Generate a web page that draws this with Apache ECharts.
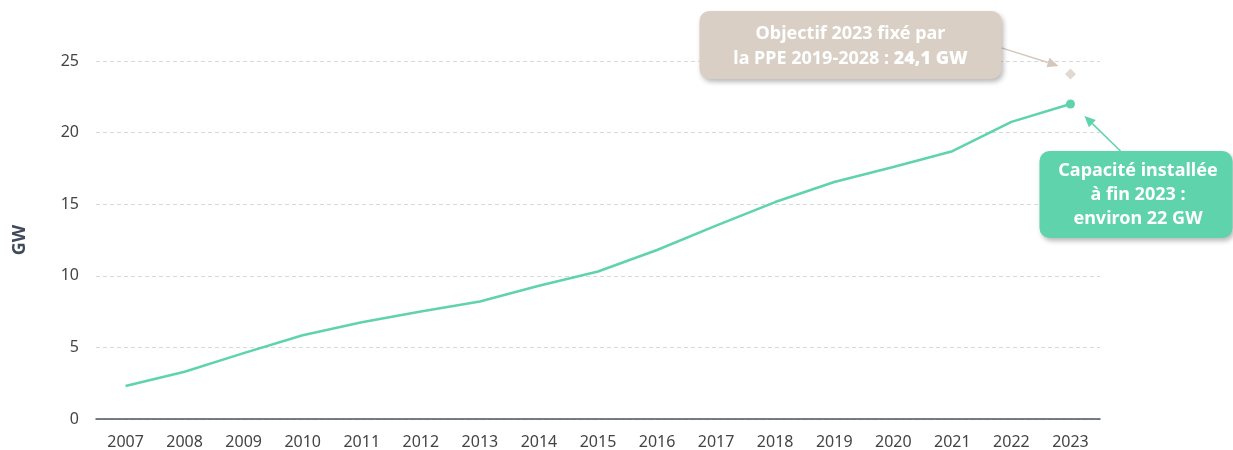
<!DOCTYPE html>
<html><head><meta charset="utf-8">
<script src="https://cdn.jsdelivr.net/npm/echarts@6/dist/echarts.min.js"></script>
<style>html,body{margin:0;padding:0;background:#fff}#c{width:1233px;height:450px}</style>
</head><body><div id="c"></div>
<script>
const years = ['2007','2008','2009','2010','2011','2012','2013','2014','2015','2016','2017','2018','2019','2020','2021','2022','2023'];
const capacity = [2.3, 3.3, 4.6, 5.85, 6.75, 7.5, 8.2, 9.3, 10.3, 11.8, 13.5, 15.15, 16.55, 17.6, 18.7, 20.75, 22.0];
const targetYear = '2023';
const targetValue = 24.1;
const yTicks = [0, 5, 10, 15, 20, 25];

const green = '#5fd3ab';
const beige = '#d9cfc5';
const font = '"Noto Sans", Lato, sans-serif';

const chart = echarts.init(document.getElementById('c'), null, {renderer: 'canvas'});
chart.setOption({
  animation: false,
  grid: {left: 96, right: 133, top: 61, bottom: 31},
  xAxis: {
    type: 'category', data: years, boundaryGap: true,
    axisLine: {lineStyle: {color: '#4b5261', width: 1.5}},
    axisTick: {show: false},
    axisLabel: {color: '#444', fontSize: 16, fontFamily: font, margin: 15}
  },
  yAxis: {
    type: 'value', min: yTicks[0], max: yTicks[yTicks.length - 1], interval: 5,
    name: 'GW', nameLocation: 'middle', nameGap: 67, nameRotate: 90,
    nameTextStyle: {color: '#3f4a5c', fontSize: 18, fontWeight: 'bold', fontFamily: font},
    axisLine: {show: false}, axisTick: {show: false},
    axisLabel: {color: '#444', fontSize: 16, fontFamily: font, margin: 17},
    splitLine: {lineStyle: {color: '#d6d9de', type: [4, 3], width: 1}}
  },
  series: [
    {
      type: 'line', data: capacity, smooth: false,
      lineStyle: {color: green, width: 2.5},
      itemStyle: {color: green},
      symbolSize: 9,
      symbol: function (v, p) { return p.dataIndex === capacity.length - 1 ? 'circle' : 'none'; }
    },
    {
      type: 'scatter', data: [[targetYear, targetValue]],
      symbol: 'diamond', symbolSize: 11,
      itemStyle: {color: beige}
    }
  ]
});

// Annotations placed relative to the data points
const pLast = chart.convertToPixel({seriesIndex: 0}, [years.length - 1, capacity[capacity.length - 1]]);
const pTgt = chart.convertToPixel({seriesIndex: 1}, [targetYear, targetValue]);

const shadow = {shadowBlur: 5, shadowOffsetX: 2, shadowOffsetY: 3, shadowColor: 'rgba(0,0,0,0.28)'};
const bx1 = {x: pTgt[0] - 371, y: pTgt[1] - 63, w: 302, h: 68};
const bx2 = {x: pLast[0] - 31, y: pLast[1] + 47, w: 193, h: 87};

function arrow(x1, y1, x2, y2, color) {
  const ang = Math.atan2(y2 - y1, x2 - x1);
  const L = 11, W = 5;
  const bx = x2 - L * Math.cos(ang), by = y2 - L * Math.sin(ang);
  const px = -Math.sin(ang) * W, py = Math.cos(ang) * W;
  return [
    {type: 'line', shape: {x1, y1, x2: bx, y2: by}, style: {stroke: color, lineWidth: 1.5}},
    {type: 'polygon', shape: {points: [[x2, y2], [bx + px, by + py], [bx - px, by - py]]}, style: {fill: color}}
  ];
}

chart.setOption({
  graphic: [
    ...arrow(bx1.x + bx1.w, bx1.y + 37, pTgt[0] - 12, pTgt[1] - 8, '#d3c8bd'),
    {type: 'rect', shape: {x: bx1.x, y: bx1.y, width: bx1.w, height: bx1.h, r: 10},
     style: Object.assign({fill: beige}, shadow)},
    {type: 'text', x: bx1.x + bx1.w / 2, y: bx1.y + bx1.h / 2 + 1,
     style: {
       text: '{n|Objectif 2023 fixé par}\n{n|la PPE 2019-2028 : }{b|24,1 GW}',
       align: 'center', verticalAlign: 'middle', fill: '#fff',
       rich: {
         n: {fontSize: 18, fontWeight: 'bold', fontFamily: font, color: '#fff', lineHeight: 25},
         b: {fontSize: 18, fontWeight: 900, fontFamily: font, color: '#fff', lineHeight: 25}
       }
     }},
    ...arrow(bx2.x + 81, bx2.y, pLast[0] + 14, pLast[1] + 12, green),
    {type: 'rect', shape: {x: bx2.x, y: bx2.y, width: bx2.w, height: bx2.h, r: 10},
     style: Object.assign({fill: green}, shadow)},
    {type: 'text', x: bx2.x + bx2.w / 2 + 2, y: bx2.y + bx2.h / 2,
     style: {
       text: 'Capacité installée\nà fin 2023 :\nenviron 22 GW',
       align: 'center', verticalAlign: 'middle', fill: '#fff',
       font: 'bold 18px ' + font, lineHeight: 24
     }}
  ]
});
</script></body></html>
